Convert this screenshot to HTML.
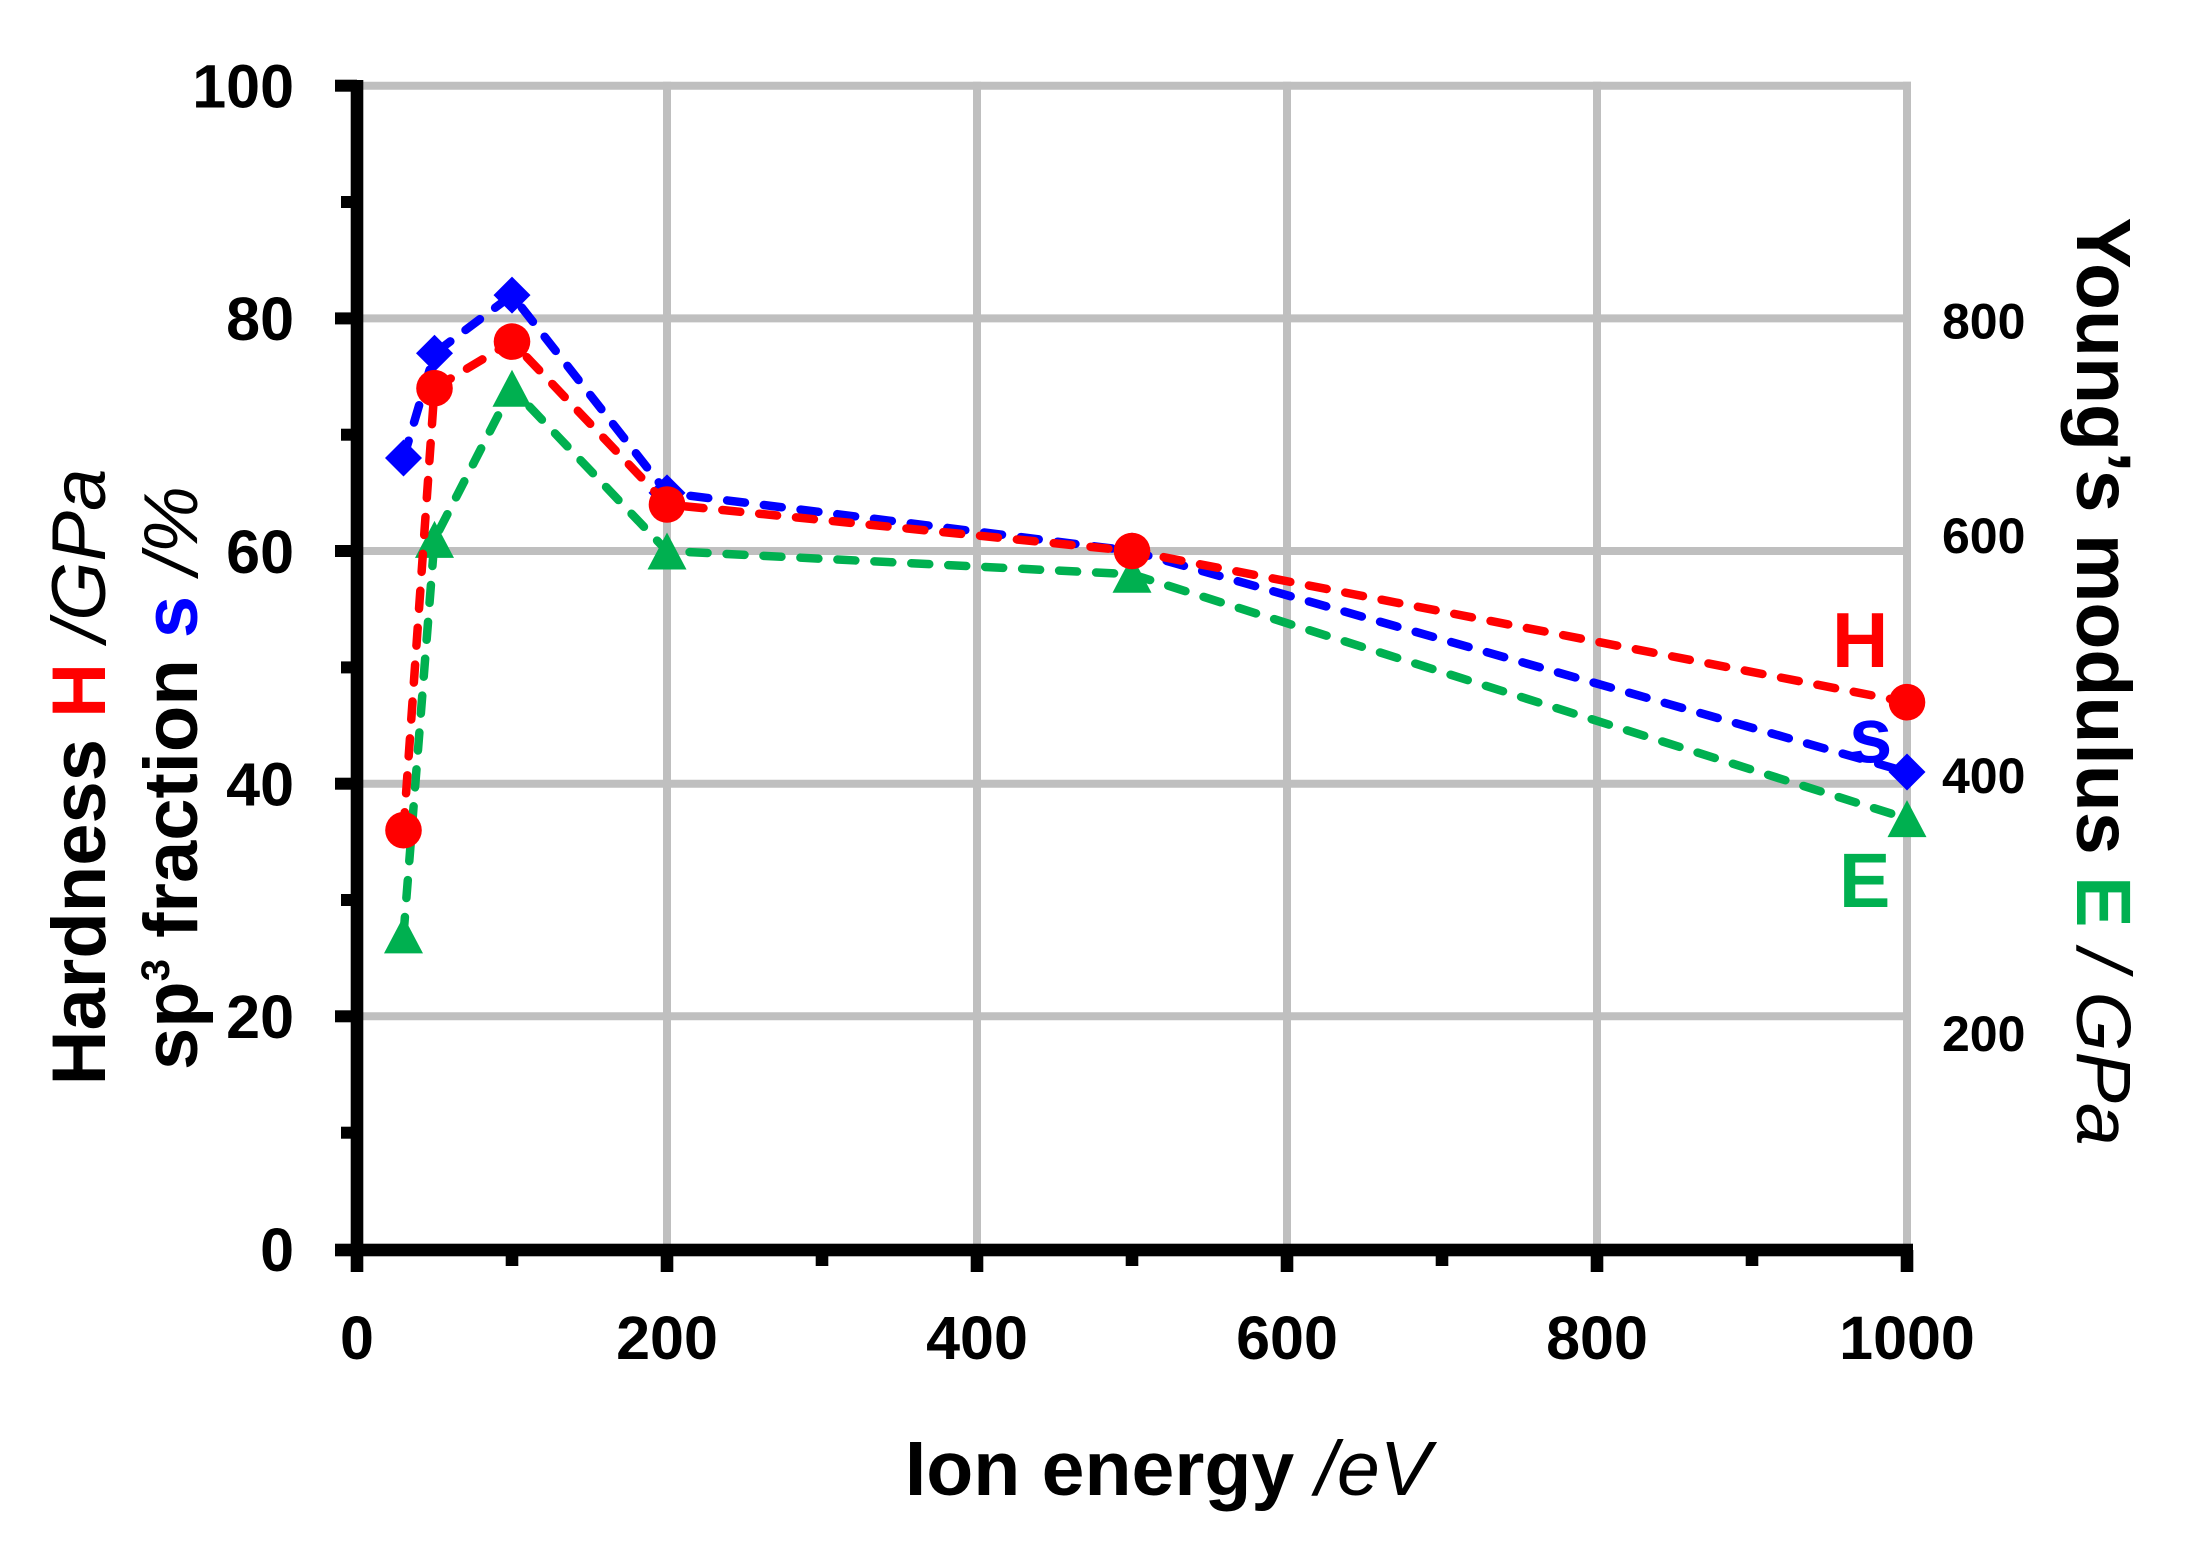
<!DOCTYPE html>
<html>
<head>
<meta charset="utf-8">
<style>
html,body{margin:0;padding:0;background:#ffffff;}
svg{display:block;}
</style>
</head>
<body>
<svg width="2190" height="1560" viewBox="0 0 2190 1560" xmlns="http://www.w3.org/2000/svg" font-family="'Liberation Sans', Arial, sans-serif">
<rect x="0" y="0" width="2190" height="1560" fill="#ffffff"/>

<!-- gridlines -->
<g stroke="#BFBFBF" stroke-width="8" fill="none">
  <line x1="357" y1="85.7" x2="1911" y2="85.7"/>
  <line x1="357" y1="318.4" x2="1911" y2="318.4"/>
  <line x1="357" y1="551" x2="1911" y2="551"/>
  <line x1="357" y1="783.7" x2="1911" y2="783.7"/>
  <line x1="357" y1="1016.3" x2="1911" y2="1016.3"/>
  <line x1="667" y1="81.7" x2="667" y2="1250"/>
  <line x1="977" y1="81.7" x2="977" y2="1250"/>
  <line x1="1287" y1="81.7" x2="1287" y2="1250"/>
  <line x1="1597" y1="81.7" x2="1597" y2="1250"/>
  <line x1="1907" y1="81.7" x2="1907" y2="1250"/>
</g>

<!-- axes -->
<g fill="#000000">
  <rect x="350.7" y="80" width="12.6" height="1192"/>
  <rect x="335" y="1243.7" width="1578" height="12.6"/>
  <rect x="335" y="79.7" width="22" height="12"/>
  <rect x="335" y="312.4" width="22" height="12"/>
  <rect x="335" y="545" width="22" height="12"/>
  <rect x="335" y="777.7" width="22" height="12"/>
  <rect x="335" y="1010.3" width="22" height="12"/>
  <rect x="341" y="196" width="16" height="12"/>
  <rect x="341" y="428.7" width="16" height="12"/>
  <rect x="341" y="661.4" width="16" height="12"/>
  <rect x="341" y="894" width="16" height="12"/>
  <rect x="341" y="1126.7" width="16" height="12"/>
  <rect x="660.7" y="1250" width="12.6" height="22"/>
  <rect x="970.7" y="1250" width="12.6" height="22"/>
  <rect x="1280.7" y="1250" width="12.6" height="22"/>
  <rect x="1590.7" y="1250" width="12.6" height="22"/>
  <rect x="1900.7" y="1250" width="12.6" height="22"/>
  <rect x="505.7" y="1250" width="12.6" height="16"/>
  <rect x="815.7" y="1250" width="12.6" height="16"/>
  <rect x="1125.7" y="1250" width="12.6" height="16"/>
  <rect x="1435.7" y="1250" width="12.6" height="16"/>
  <rect x="1745.7" y="1250" width="12.6" height="16"/>
</g>

<!-- left tick labels -->
<g font-size="61" font-weight="bold" fill="#000" text-anchor="end">
  <text x="294" y="107.5">100</text>
  <text x="294" y="340.2">80</text>
  <text x="294" y="572.8">60</text>
  <text x="294" y="805.5">40</text>
  <text x="294" y="1038.1">20</text>
  <text x="294" y="1270.8">0</text>
</g>

<!-- bottom tick labels -->
<g font-size="61" font-weight="bold" fill="#000" text-anchor="middle">
  <text x="357" y="1359">0</text>
  <text x="667" y="1359">200</text>
  <text x="977" y="1359">400</text>
  <text x="1287" y="1359">600</text>
  <text x="1597" y="1359">800</text>
  <text x="1907" y="1359">1000</text>
</g>

<!-- right tick labels -->
<g font-size="50" font-weight="bold" fill="#000" text-anchor="start">
  <text x="1942" y="338.5">800</text>
  <text x="1942" y="553">600</text>
  <text x="1942" y="793">400</text>
  <text x="1942" y="1051">200</text>
</g>

<!-- series E (green) -->
<polyline points="403.5,934.9 434.5,539.4 512,388.2 667,551 1132,574.3 1907,818.6" fill="none" stroke="#00B050" stroke-width="8.5" stroke-dasharray="18 19" stroke-linecap="round" stroke-linejoin="round"/>
<g fill="#00B050">
  <polygon points="403.5,916.4 423,953.4 384,953.4"/>
  <polygon points="434.5,520.9 454,557.9 415,557.9"/>
  <polygon points="512,369.7 531.5,406.7 492.5,406.7"/>
  <polygon points="667,532.5 686.5,569.5 647.5,569.5"/>
  <polygon points="1132,555.8 1151.5,592.8 1112.5,592.8"/>
  <polygon points="1907,800.1 1926.5,837.1 1887.5,837.1"/>
</g>

<!-- series s (blue) -->
<polyline points="403.5,458 434.5,353.3 512,295.1 667,492.9 1132,551 1907,772" fill="none" stroke="#0000FF" stroke-width="8.5" stroke-dasharray="18 19" stroke-linecap="round" stroke-linejoin="round"/>
<g fill="#0000FF">
  <polygon points="403.5,439.5 422,458 403.5,476.5 385,458"/>
  <polygon points="434.5,334.8 453,353.3 434.5,371.8 416,353.3"/>
  <polygon points="512,276.6 530.5,295.1 512,313.6 493.5,295.1"/>
  <polygon points="667,474.4 685.5,492.9 667,511.4 648.5,492.9"/>
  <polygon points="1132,532.5 1150.5,551 1132,569.5 1113.5,551"/>
  <polygon points="1907,753.5 1925.5,772 1907,790.5 1888.5,772"/>
</g>

<!-- series H (red) -->
<polyline points="403.5,830.2 434.5,388.2 512,341.6 667,504.5 1132,551 1907,702.2" fill="none" stroke="#FF0000" stroke-width="8.5" stroke-dasharray="18 19" stroke-linecap="round" stroke-linejoin="round"/>
<g fill="#FF0000">
  <circle cx="403.5" cy="830.2" r="18.3"/>
  <circle cx="434.5" cy="388.2" r="18.3"/>
  <circle cx="512" cy="341.6" r="18.3"/>
  <circle cx="667" cy="504.5" r="18.3"/>
  <circle cx="1132" cy="551" r="18.3"/>
  <circle cx="1907" cy="702.2" r="18.3"/>
</g>

<!-- in-plot labels -->
<text x="1832" y="667" font-size="78" font-weight="bold" fill="#FF0000">H</text>
<text x="1849" y="762" font-size="78" font-weight="bold" fill="#0000FF">s</text>
<text x="1839" y="907" font-size="77" font-weight="bold" fill="#00B050">E</text>

<!-- left axis title -->
<text transform="translate(105,777) rotate(-90)" text-anchor="middle" font-size="76" fill="#000"><tspan font-weight="bold">Hardness </tspan><tspan font-weight="bold" fill="#FF0000">H</tspan><tspan font-style="italic"> /GPa</tspan></text>
<text transform="translate(197,778) rotate(-90)" text-anchor="middle" font-size="76" fill="#000"><tspan font-weight="bold">sp</tspan><tspan font-weight="bold" font-size="40" dy="-28">3</tspan><tspan font-weight="bold" dy="28"> fraction </tspan><tspan font-weight="bold" fill="#0000FF">s</tspan><tspan font-style="italic"> /%</tspan></text>

<!-- right axis title -->
<text transform="translate(2077,681.5) rotate(90)" text-anchor="middle" font-size="77" fill="#000"><tspan font-weight="bold">Young’s modulus </tspan><tspan font-weight="bold" fill="#00B050">E</tspan><tspan font-style="italic"> / GPa</tspan></text>

<!-- x axis title -->
<text x="1168" y="1495" text-anchor="middle" font-size="77" fill="#000"><tspan font-weight="bold">Ion energy </tspan><tspan font-style="italic">/eV</tspan></text>
</svg>
</body>
</html>
